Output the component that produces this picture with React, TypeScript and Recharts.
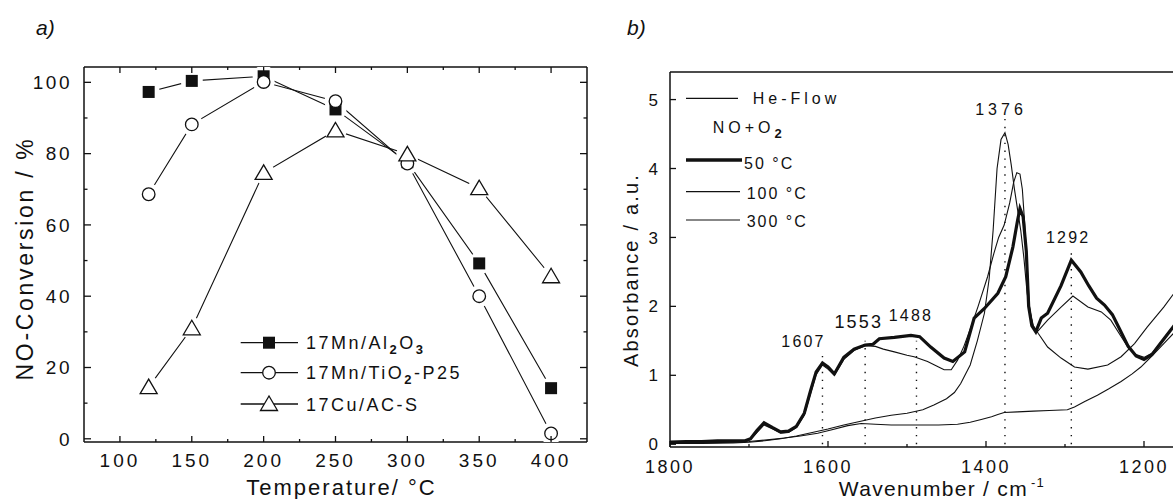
import React from 'react';
import { LineChart, Line, XAxis, YAxis, Legend, ReferenceLine, ReferenceDot } from 'recharts';

const FONT = "'Liberation Sans', Arial, sans-serif";
const INK = '#111';

// ---------- panel a: NO conversion vs temperature ----------
const temps = [120, 150, 200, 250, 300, 350, 400];
const mnAl2O3 = [97.3, 100.4, 101.7, 92.4, 77.6, 49.2, 14.2];
const mnTiO2 = [68.6, 88.2, 100.1, 94.7, 77.2, 40.0, 1.5];
const cuAC = [14.5, 31.0, 74.6, 86.5, 79.8, 70.3, 45.6];
const tempTicks = [100, 150, 200, 250, 300, 350, 400];
const tempMinor = [125, 175, 225, 275, 325, 375];
const convTicks = [0, 20, 40, 60, 80, 100];
const convMinor = [10, 30, 50, 70, 90];

// ---------- panel b: IR spectra ----------
const wn50 = [1800, 1780, 1760, 1740, 1720, 1705, 1698, 1690, 1681, 1670, 1660, 1650, 1640, 1630, 1622, 1615, 1607, 1600, 1592, 1580, 1567, 1553, 1543, 1535, 1516, 1495, 1484, 1470, 1453, 1442, 1427, 1415, 1402, 1385, 1375, 1366, 1360, 1357, 1353, 1349, 1346, 1342, 1337, 1330, 1322, 1305, 1292, 1280, 1270, 1260, 1250, 1240, 1230, 1220, 1210, 1200, 1190, 1180, 1170, 1160];
const abs50 = [0.03, 0.04, 0.04, 0.05, 0.05, 0.05, 0.08, 0.2, 0.31, 0.24, 0.18, 0.19, 0.26, 0.45, 0.78, 1.05, 1.18, 1.12, 1.02, 1.26, 1.38, 1.44, 1.45, 1.53, 1.55, 1.58, 1.56, 1.41, 1.25, 1.2, 1.34, 1.83, 1.97, 2.19, 2.43, 2.86, 3.25, 3.42, 3.3, 2.8, 2.0, 1.72, 1.63, 1.83, 1.9, 2.3, 2.67, 2.5, 2.3, 2.12, 2.02, 1.88, 1.65, 1.42, 1.28, 1.23, 1.3, 1.45, 1.6, 1.75];

const wn100 = [1800, 1760, 1720, 1705, 1698, 1690, 1681, 1670, 1660, 1650, 1640, 1630, 1622, 1615, 1607, 1600, 1592, 1580, 1567, 1553, 1540, 1530, 1516, 1500, 1491, 1474, 1460, 1453, 1444, 1436, 1428, 1419, 1410, 1398, 1390, 1384, 1377, 1370, 1365, 1361, 1357, 1354, 1351, 1348, 1345, 1341, 1336, 1322, 1305, 1290, 1271, 1254, 1242, 1230, 1220, 1210, 1200, 1190, 1180, 1170, 1160];
const abs100 = [0.02, 0.03, 0.04, 0.04, 0.07, 0.17, 0.28, 0.22, 0.16, 0.17, 0.24, 0.42, 0.74, 1.01, 1.15, 1.09, 1.0, 1.23, 1.36, 1.43, 1.42, 1.38, 1.34, 1.29, 1.27, 1.2, 1.12, 1.08, 1.08, 1.22, 1.42, 1.7, 2.0, 2.43, 2.77, 3.0, 3.18, 3.5, 3.8, 3.94, 3.92, 3.7, 3.2, 2.6, 2.0, 1.72, 1.62, 1.8, 1.99, 2.15, 1.99, 1.92, 1.8, 1.58, 1.4, 1.3, 1.26, 1.32, 1.46, 1.61, 1.76];

const wn300 = [1800, 1760, 1720, 1700, 1680, 1660, 1640, 1620, 1600, 1580, 1560, 1540, 1520, 1500, 1480, 1466, 1450, 1440, 1432, 1420, 1411, 1402, 1396, 1391, 1386, 1381, 1376, 1372, 1368, 1364, 1360, 1356, 1352, 1348, 1344, 1340, 1334, 1322, 1305, 1288, 1271, 1246, 1229, 1212, 1196, 1175, 1160];
const abs300 = [0.01, 0.01, 0.02, 0.03, 0.05, 0.08, 0.12, 0.17, 0.22, 0.28, 0.33, 0.38, 0.42, 0.45, 0.5, 0.57, 0.66, 0.75, 0.88, 1.15, 1.5, 1.9, 2.4, 3.1, 4.0, 4.42, 4.52, 4.35, 4.05, 3.7, 3.4, 3.1, 2.7, 2.2, 1.9, 1.72, 1.61, 1.41, 1.25, 1.12, 1.09, 1.15, 1.27, 1.46, 1.7, 1.99, 2.22];

const wnHe = [1800, 1760, 1720, 1700, 1680, 1655, 1635, 1613, 1595, 1575, 1558, 1540, 1520, 1490, 1460, 1436, 1420, 1406, 1393, 1385, 1377, 1360, 1340, 1320, 1297, 1288, 1275, 1259, 1245, 1229, 1215, 1204, 1190, 1175, 1160];
const absHe = [0.02, 0.02, 0.03, 0.04, 0.06, 0.09, 0.12, 0.16, 0.21, 0.27, 0.3, 0.29, 0.28, 0.28, 0.28, 0.29, 0.32, 0.36, 0.4, 0.43, 0.46, 0.47, 0.48, 0.49, 0.5, 0.54, 0.62, 0.71, 0.8, 0.91, 1.02, 1.12, 1.28, 1.46, 1.64];

const wnTicks = [1800, 1600, 1400, 1200];
const wnMinor = [1700, 1500, 1300];
const absTicks = [0, 1, 2, 3, 4, 5];

const peakWn = [1607, 1553, 1488, 1376, 1292];
const peakTop = [1.34, 1.5, 1.5, 4.72, 2.85];
const peakLabelWn = [1631, 1561, 1495, 1381, 1296];
const peakLabelAbs = [1.5, 1.78, 1.87, 4.86, 3.0];

const conversionData = temps.map((t, i) => ({ t, al: mnAl2O3[i], ti: mnTiO2[i], cu: cuAC[i] }));
const toSeries = (wn: number[], abs: number[]) => wn.map((w, i) => ({ wn: w, v: abs[i] }));
const s50 = toSeries(wn50, abs50);
const s100 = toSeries(wn100, abs100);
const s300 = toSeries(wn300, abs300);
const sHe = toSeries(wnHe, absHe);

// ---------- ticks drawn inward ----------
type Side = 'bottom' | 'top' | 'left' | 'right';
interface TickCfg {
  side: Side;
  major: number[];
  len: number;
  minor: number;
  labels?: boolean;
  gap?: number;
  size?: number;
  spacing?: number;
}

const tickRenderer = (cfg: TickCfg) => (props: any) => {
  const { x, y, payload } = props;
  const v = payload?.value;
  const isMajor = cfg.major.includes(v);
  const L = isMajor ? cfg.len : cfg.minor;
  let ln = [x, y, x, y - L];
  if (cfg.side === 'top') ln = [x, y, x, y + L];
  if (cfg.side === 'left') ln = [x, y, x + L, y];
  if (cfg.side === 'right') ln = [x, y, x - L, y];
  const gap = cfg.gap ?? 12;
  let label = null;
  if (cfg.labels && isMajor) {
    label =
      cfg.side === 'bottom' ? (
        <text x={x} y={y + gap} dy="0.71em" textAnchor="middle" fontSize={cfg.size} letterSpacing={cfg.spacing} fill={INK}>
          {v}
        </text>
      ) : (
        <text x={x - gap} y={y} dy="0.36em" textAnchor="end" fontSize={cfg.size} letterSpacing={cfg.spacing} fill={INK}>
          {v}
        </text>
      );
  }
  return (
    <g>
      {L > 0 && <line x1={ln[0]} y1={ln[1]} x2={ln[2]} y2={ln[3]} stroke={INK} strokeWidth={1.3} />}
      {label}
    </g>
  );
};

// ---------- markers ----------
const Square = (p: any) =>
  p.cx == null ? null : <rect key={p.key} x={p.cx - 6} y={p.cy - 6} width={12} height={12} fill={INK} />;
const Ring = (p: any) =>
  p.cx == null ? null : <circle key={p.key} cx={p.cx} cy={p.cy} r={6.3} fill="#fff" stroke={INK} strokeWidth={1.3} />;
const Tri = (p: any) =>
  p.cx == null ? null : (
    <polygon
      key={p.key}
      points={`${p.cx},${p.cy - 8} ${p.cx - 8.5},${p.cy + 6.5} ${p.cx + 8.5},${p.cy + 6.5}`}
      fill="#fff"
      stroke={INK}
      strokeWidth={1.3}
    />
  );
const Halo = (p: any) => (p.cx == null ? null : <circle key={p.key} cx={p.cx} cy={p.cy} r={11} fill="#fff" />);

const LegendA = () => {
  const rows = [16.7, 46.7, 78];
  const markers = [Square, Ring, Tri];
  const texts = [
    <>
      17Mn/Al<tspan dy={5} fontSize={13} fontWeight="bold">2</tspan>
      <tspan dy={-5}>O</tspan>
      <tspan dy={5} fontSize={13} fontWeight="bold">3</tspan>
    </>,
    <>
      17Mn/TiO<tspan dy={5} fontSize={13} fontWeight="bold">2</tspan>
      <tspan dy={-5}>-P25</tspan>
    </>,
    <>17Cu/AC-S</>,
  ];
  return (
    <svg width={240} height={95} style={{ overflow: 'visible', fontFamily: FONT }}>
      {rows.map((y, i) => {
        const M = markers[i];
        return (
          <g key={i}>
            <line x1={4.7} y1={y} x2={62} y2={y} stroke={INK} strokeWidth={1.3} />
            <M cx={33} cy={y} />
            <text x={70} y={y + 6.5} fontSize={18} letterSpacing={2.5} fill={INK}>
              {texts[i]}
            </text>
          </g>
        );
      })}
    </svg>
  );
};

const LegendB = () => (
  <svg width={180} height={150} style={{ overflow: 'visible', fontFamily: FONT }}>
    <line x1={6} y1={13.3} x2={58} y2={13.3} stroke={INK} strokeWidth={1.2} />
    <text x={72.7} y={19} fontSize={16} letterSpacing={4} fill={INK}>He-Flow</text>
    <text x={32.7} y={48} fontSize={16} letterSpacing={4} fill={INK}>
      NO+O<tspan dy={5} fontSize={13} fontWeight="bold">2</tspan>
    </text>
    <line x1={6} y1={75} x2={62} y2={75} stroke={INK} strokeWidth={3.5} />
    <text x={64} y={84} fontSize={16} letterSpacing={2} fill={INK}>50 °C</text>
    <line x1={6} y1={106.7} x2={60} y2={106.7} stroke={INK} strokeWidth={1.2} />
    <text x={66.7} y={113.5} fontSize={16} letterSpacing={2} fill={INK}>100 °C</text>
    <line x1={6} y1={135} x2={60} y2={135} stroke={INK} strokeWidth={1.2} />
    <text x={66.7} y={142} fontSize={16} letterSpacing={2} fill={INK}>300 °C</text>
  </svg>
);

const peakLabel = (text: string, size: number, spacing: number) => (props: any) => {
  const vb = props.viewBox || {};
  const cx = (vb.x ?? 0) + (vb.width ?? 0) / 2;
  const cy = (vb.y ?? 0) + (vb.height ?? 0) / 2;
  return (
    <text x={cx} y={cy} dy="0.36em" textAnchor="middle" fontSize={size} letterSpacing={spacing} fill={INK}>
      {text}
    </text>
  );
};

const axisLine = { stroke: INK, strokeWidth: 1.5 };

const ConversionChart = () => (
  <LineChart width={600} height={499} data={conversionData} margin={{ top: 66, right: 12, bottom: 0, left: 0 }}>
    <XAxis
      dataKey="t"
      type="number"
      domain={[75, 425]}
      allowDataOverflow
      ticks={[...tempTicks, ...tempMinor]}
      interval={0}
      height={57}
      tickSize={0}
      tickMargin={0}
      tickLine={false}
      axisLine={axisLine}
      tick={tickRenderer({ side: 'bottom', major: tempTicks, len: 6, minor: 3, labels: true, gap: 12, size: 19, spacing: 3 })}
      label={(p: any) => (
        <text
          x={p.viewBox.x + p.viewBox.width / 2 + 6}
          y={p.viewBox.y + 53}
          textAnchor="middle"
          fontSize={22}
          letterSpacing={2}
          fill={INK}
        >
          Temperature/ °C
        </text>
      )}
    />
    <XAxis
      xAxisId="top"
      dataKey="t"
      orientation="top"
      type="number"
      domain={[75, 425]}
      allowDataOverflow
      ticks={[...tempTicks, ...tempMinor]}
      interval={0}
      height={1}
      tickSize={0}
      tickMargin={0}
      tickLine={false}
      axisLine={axisLine}
      tick={tickRenderer({ side: 'top', major: tempTicks, len: 6, minor: 3 })}
    />
    <YAxis
      type="number"
      domain={[-0.9, 104.3]}
      allowDataOverflow
      ticks={[...convTicks, ...convMinor]}
      interval={0}
      width={84}
      tickSize={0}
      tickMargin={0}
      tickLine={false}
      axisLine={axisLine}
      tick={tickRenderer({ side: 'left', major: convTicks, len: 7, minor: 3.5, labels: true, gap: 12, size: 19, spacing: 2.5 })}
      label={(p: any) => {
        const cy = p.viewBox.y + p.viewBox.height / 2 + 4;
        return (
          <text
            transform={`translate(25,${cy}) rotate(-90)`}
            dy="0.36em"
            textAnchor="middle"
            fontSize={23}
            letterSpacing={2.7}
            fill={INK}
          >
            NO-Conversion / %
          </text>
        );
      }}
    />
    <YAxis
      yAxisId="right"
      orientation="right"
      type="number"
      domain={[-0.9, 104.3]}
      allowDataOverflow
      ticks={[...convTicks, ...convMinor]}
      interval={0}
      width={1}
      tickSize={0}
      tickMargin={0}
      tickLine={false}
      axisLine={axisLine}
      tick={tickRenderer({ side: 'right', major: convTicks, len: 7, minor: 3.5 })}
    />
    <Legend
      layout="vertical"
      align="center"
      verticalAlign="middle"
      content={() => <LegendA />}
      wrapperStyle={{ left: 236, top: 326, width: 240, height: 95 }}
    />
    <Line dataKey="al" type="linear" stroke={INK} strokeWidth={1.1} dot={false} isAnimationActive={false} />
    <Line dataKey="ti" type="linear" stroke={INK} strokeWidth={1.1} dot={false} isAnimationActive={false} />
    <Line dataKey="cu" type="linear" stroke={INK} strokeWidth={1.1} dot={false} isAnimationActive={false} />
    <Line xAxisId="top" yAxisId="right" dataKey="al" stroke="none" strokeWidth={0} dot={Halo} activeDot={false} isAnimationActive={false} legendType="none" />
    <Line xAxisId="top" yAxisId="right" dataKey="ti" stroke="none" strokeWidth={0} dot={Halo} activeDot={false} isAnimationActive={false} legendType="none" />
    <Line xAxisId="top" yAxisId="right" dataKey="cu" stroke="none" strokeWidth={0} dot={Halo} activeDot={false} isAnimationActive={false} legendType="none" />
    <Line dataKey="al" stroke="none" strokeWidth={0} dot={Square} activeDot={false} isAnimationActive={false} legendType="none" />
    <Line dataKey="ti" stroke="none" strokeWidth={0} dot={Ring} activeDot={false} isAnimationActive={false} legendType="none" />
    <Line dataKey="cu" stroke="none" strokeWidth={0} dot={Tri} activeDot={false} isAnimationActive={false} legendType="none" />
  </LineChart>
);

const SpectraChart = () => (
  <LineChart width={640} height={499} margin={{ top: 71, right: 17, bottom: 0, left: 0 }}>
    <XAxis
      dataKey="wn"
      type="number"
      domain={[1100, 1800]}
      reversed
      allowDataOverflow
      ticks={[...wnTicks, ...wnMinor]}
      interval={0}
      height={52}
      tickSize={0}
      tickMargin={0}
      tickLine={false}
      axisLine={axisLine}
      tick={tickRenderer({ side: 'bottom', major: wnTicks, len: 6, minor: 3, labels: true, gap: 13, size: 18, spacing: 2.5 })}
      label={(p: any) => (
        <text x={p.viewBox.x + 272} y={p.viewBox.y + 49} textAnchor="middle" fontSize={21} letterSpacing={1.3} fill={INK}>
          Wavenumber / cm
          <tspan dx={3} dy={-9} fontSize={13}>-1</tspan>
        </text>
      )}
    />
    <XAxis
      xAxisId="top"
      dataKey="wn"
      orientation="top"
      type="number"
      domain={[1100, 1800]}
      reversed
      allowDataOverflow
      height={1}
      tick={false}
      tickLine={false}
      axisLine={axisLine}
    />
    <YAxis
      type="number"
      domain={[-0.04, 5.4]}
      allowDataOverflow
      ticks={absTicks}
      interval={0}
      width={70}
      tickSize={0}
      tickMargin={0}
      tickLine={false}
      axisLine={axisLine}
      tick={tickRenderer({ side: 'left', major: absTicks, len: 6, minor: 0, labels: true, gap: 12, size: 17, spacing: 0 })}
      label={() => (
        <text transform="translate(31,270) rotate(-90)" dy="0.36em" textAnchor="middle" fontSize={20} letterSpacing={2.2} fill={INK}>
          Absorbance / a.u.
        </text>
      )}
    />
    <Legend
      layout="vertical"
      align="center"
      verticalAlign="middle"
      content={() => <LegendB />}
      wrapperStyle={{ left: 80, top: 85, width: 180, height: 150 }}
    />
    {peakWn.map((w, i) => (
      <ReferenceLine
        key={`pl${w}`}
        segment={[{ x: w, y: 0 }, { x: w, y: peakTop[i] }]}
        stroke={INK}
        strokeWidth={1.4}
        strokeDasharray="1.4 6.5"
      />
    ))}
    {peakWn.map((w, i) => (
      <ReferenceDot
        key={`pd${w}`}
        x={peakLabelWn[i]}
        y={peakLabelAbs[i]}
        r={0}
        fill="none"
        stroke="none"
        label={peakLabel(String(w), w === 1553 ? 18 : 16, w === 1376 ? 4 : 2.2)}
      />
    ))}
    <Line xAxisId="top" data={sHe} dataKey="v" type="linear" stroke={INK} strokeWidth={1.1} dot={false} activeDot={false} isAnimationActive={false} />
    <Line data={s300} dataKey="v" type="linear" stroke={INK} strokeWidth={1.1} dot={false} activeDot={false} isAnimationActive={false} />
    <Line data={s100} dataKey="v" type="linear" stroke={INK} strokeWidth={1.1} dot={false} activeDot={false} isAnimationActive={false} />
    <Line data={s50} dataKey="v" type="linear" stroke={INK} strokeWidth={3.2} dot={false} activeDot={false} isAnimationActive={false} />
  </LineChart>
);

export default function App() {
  return (
    <div
      style={{
        position: 'absolute',
        left: 0,
        top: 0,
        width: 1173,
        height: 499,
        overflow: 'hidden',
        background: '#fff',
        fontFamily: FONT,
        color: INK,
      }}
    >
      <div style={{ position: 'absolute', left: 0, top: 0 }}>
        <ConversionChart />
      </div>
      <div style={{ position: 'absolute', left: 600, top: 0 }}>
        <SpectraChart />
      </div>
      <svg width={1173} height={60} style={{ position: 'absolute', left: 0, top: 0, pointerEvents: 'none' }}>
        <text x={36} y={35} fontSize={21} fontStyle="italic" fill={INK} fontFamily={FONT}>a)</text>
        <text x={627} y={35} fontSize={21} fontStyle="italic" fill={INK} fontFamily={FONT}>b)</text>
      </svg>
    </div>
  );
}
